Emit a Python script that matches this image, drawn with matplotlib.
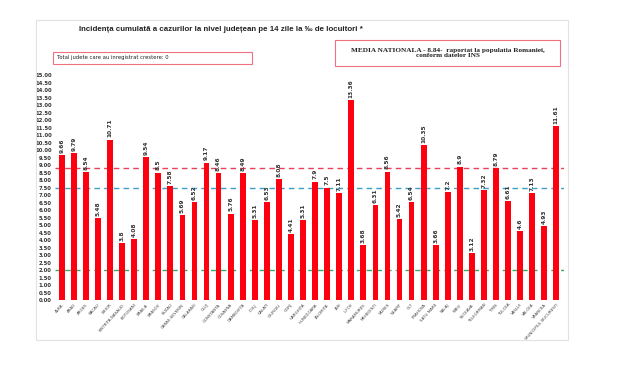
import matplotlib
matplotlib.use("Agg")
import matplotlib.pyplot as plt
from matplotlib.patches import Rectangle
import numpy as np

counties = [
    "ALBA", "ARAD", "ARGES", "BACAU", "BIHOR", "BISTRITA-NASAUD", "BOTOSANI",
    "BRAILA", "BRASOV", "BUZAU", "CARAS-SEVERIN", "CALARASI", "CLUJ",
    "CONSTANTA", "COVASNA", "DAMBOVITA", "DOLJ", "GALATI", "GIURGIU", "GORJ",
    "HARGHITA", "HUNEDOARA", "IALOMITA", "IASI", "ILFOV", "MARAMURES",
    "MEHEDINTI", "MURES", "NEAMT", "OLT", "PRAHOVA", "SATU MARE", "SALAJ",
    "SIBIU", "SUCEAVA", "TELEORMAN", "TIMIS", "TULCEA", "VASLUI", "VALCEA",
    "VRANCEA", "MUNICIPIUL BUCURESTI",
]
incidence = [
    9.66, 9.79, 8.54, 5.48, 10.71, 3.8, 4.08, 9.54, 8.5, 7.58, 5.69, 6.52,
    9.17, 8.46, 5.76, 8.49, 5.31, 6.53, 8.08, 4.41, 5.31, 7.9, 7.5, 7.11,
    13.36, 3.68, 6.31, 8.56, 5.42, 6.54, 10.35, 3.66, 7.2, 8.9, 3.12, 7.32,
    8.79, 6.61, 4.6, 7.13, 4.93, 11.61,
]
national_avg = 8.84
blue_level = 7.5
green_level = 2.0

fig = plt.figure(figsize=(6.2, 3.76), dpi=100)
fig.patch.set_facecolor("white")

# outer light frame
fig.patches.append(Rectangle((0.058, 0.096), 0.858, 0.85, transform=fig.transFigure,
                             fill=False, edgecolor="#e2e2e2", linewidth=0.8))

ax = fig.add_axes([0.088, 0.202, 0.821, 0.598])
x = np.arange(len(counties))
ax.bar(x, incidence, width=0.48, color="#ff0010", zorder=2)

for xi, v in zip(x, incidence):
    ax.text(xi, v + 0.15, f"{v:g}", rotation=90, ha="center", va="bottom",
            fontsize=4.2, fontweight="bold", color="#333333")

ax.axhline(national_avg, color="#e8415a", linestyle=(0, (4, 3)), linewidth=1.0, zorder=1)
ax.axhline(blue_level, color="#3aa0c8", linestyle=(0, (4, 3)), linewidth=1.0, zorder=1)
ax.axhline(green_level, color="#2fae6a", linestyle=(0, (4, 3)), linewidth=1.0, zorder=1)

ax.set_xlim(-0.6, len(counties) - 0.4)
ax.set_ylim(0, 15)
ax.set_yticks(np.arange(0, 15.01, 0.5))
ax.set_yticklabels([f"{t:.2f}" for t in np.arange(0, 15.01, 0.5)],
                   fontsize=3.8, fontweight="bold", color="#333333")
ax.set_xticks(x)
ax.set_xticklabels(counties, rotation=48, ha="right", rotation_mode="anchor",
                   fontsize=2.9, color="#444444")
ax.tick_params(length=0, pad=2)
for s in ax.spines.values():
    s.set_visible(False)

fig.text(0.127, 0.922, "Incidența cumulată a cazurilor la nivel județean pe 14 zile la ‰ de locuitori *",
         fontsize=5.7, fontweight="bold", family="Liberation Sans", color="#222222", va="center")

fig.patches.append(Rectangle((0.085, 0.83), 0.322, 0.032, transform=fig.transFigure,
                             fill=False, edgecolor="#f07080", linewidth=0.8))
fig.text(0.092, 0.846, "Total judete care au inregistrat crestere: 0",
         fontsize=3.8, color="#222222", va="center")

fig.patches.append(Rectangle((0.541, 0.824), 0.362, 0.07, transform=fig.transFigure,
                             fill=False, edgecolor="#f07080", linewidth=0.8))
fig.text(0.722, 0.859, "MEDIA NATIONALA - 8.84-  raportat la populatia Romaniei,\nconform datelor INS",
         fontsize=5.2, fontweight="bold", family="Liberation Serif", color="#222222",
         ha="center", va="center", linespacing=1.2)

fig.savefig("out.png", dpi=100)
